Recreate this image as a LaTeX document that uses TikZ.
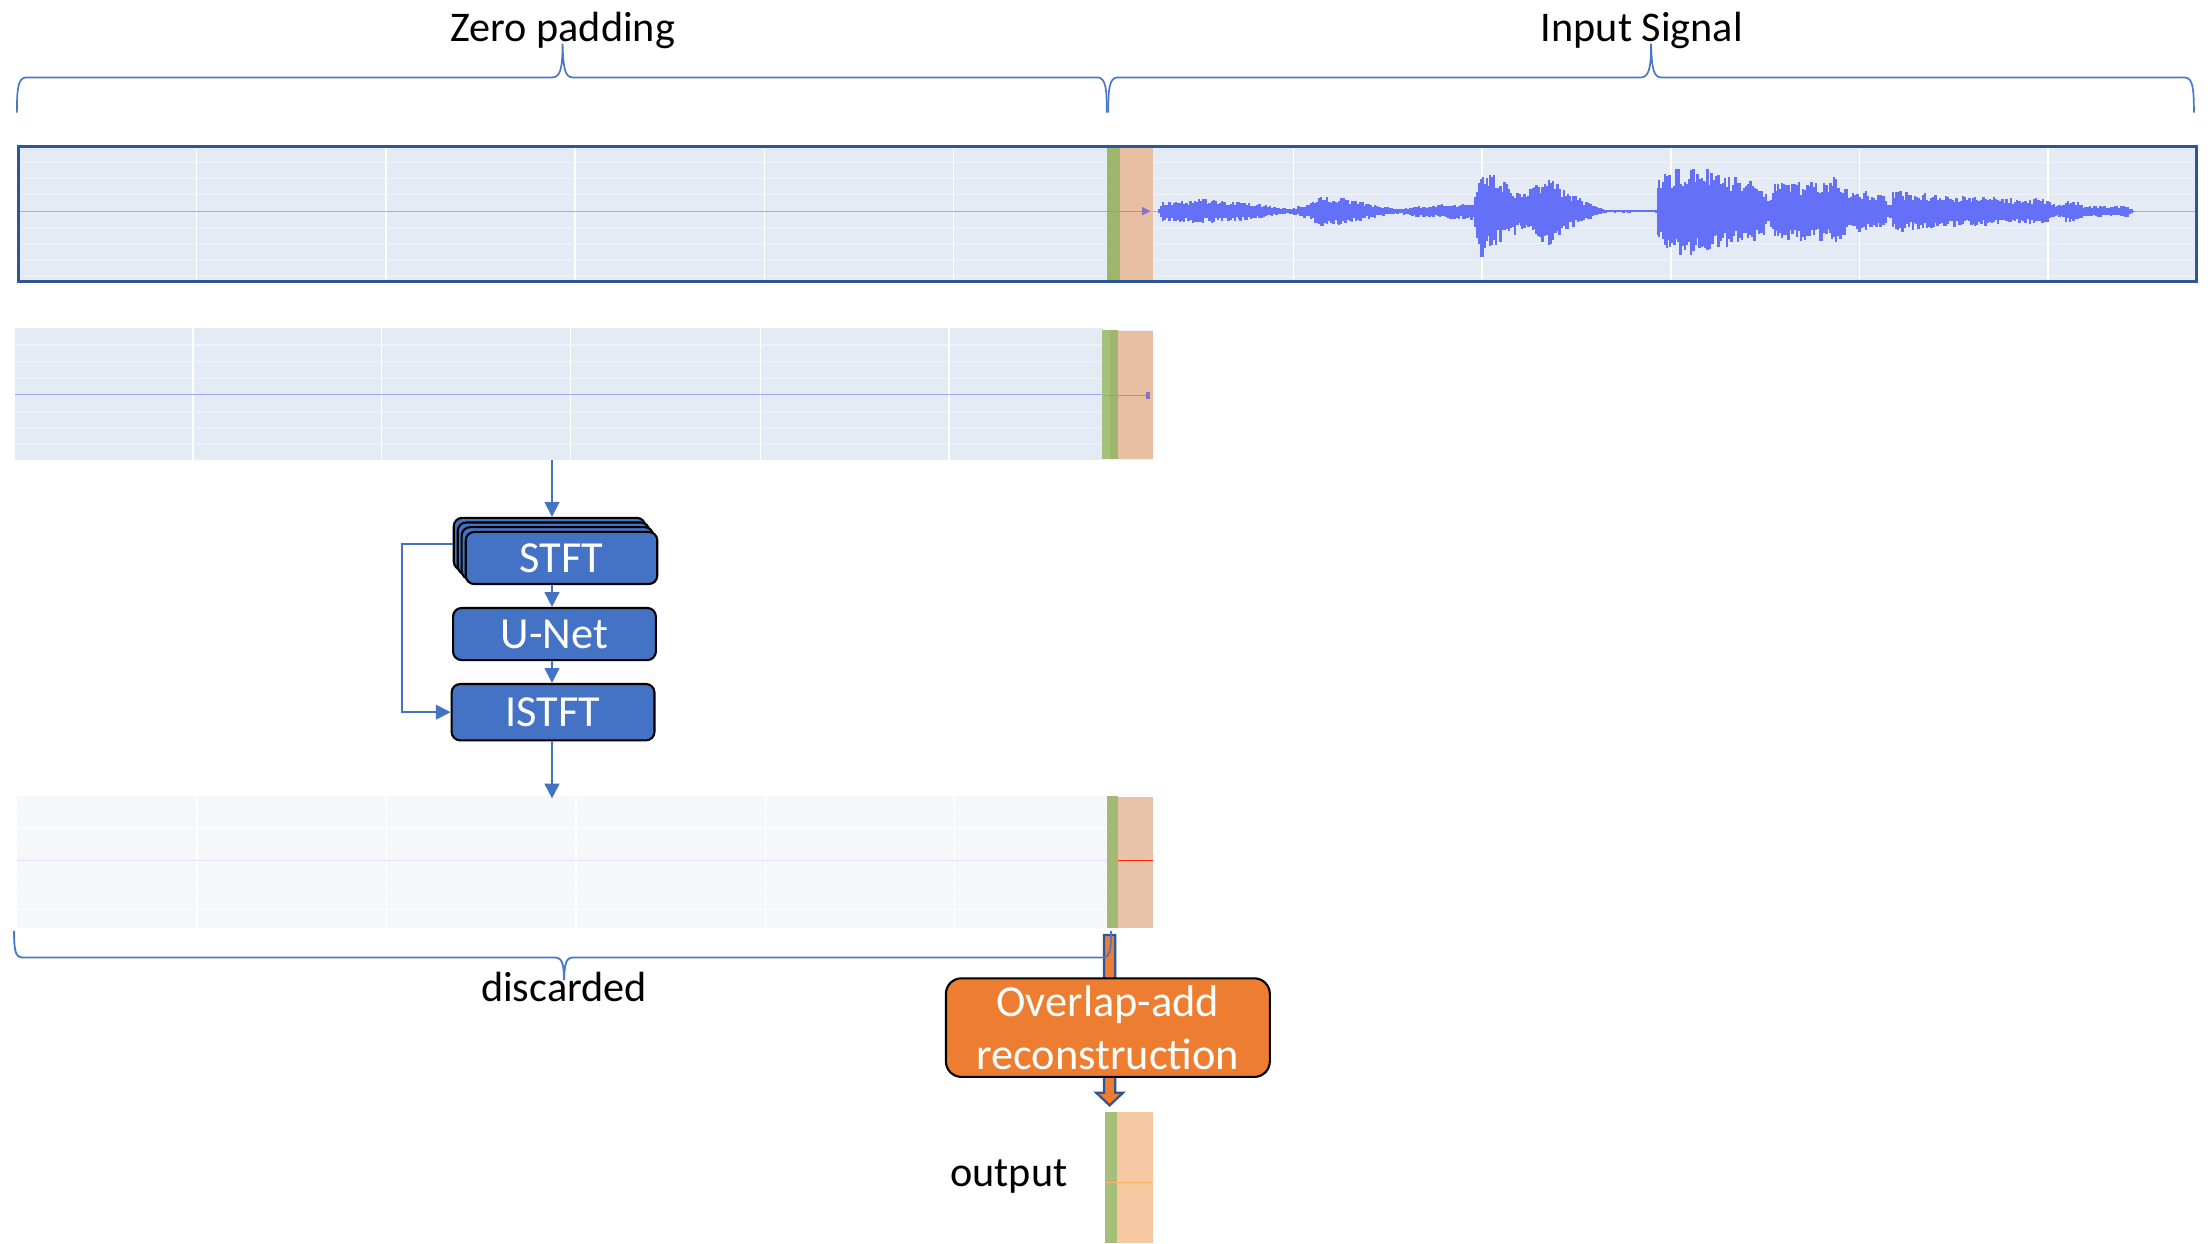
\documentclass[tikz,border=0pt]{standalone}
\usepackage{fontspec}
\setmainfont{Carlito}
\usetikzlibrary{arrows.meta}
\definecolor{plotbg}{HTML}{E5EBF5}
\definecolor{plotbgl}{HTML}{F5F7FB}
\definecolor{wavec}{HTML}{6370F7}
\definecolor{barg}{HTML}{9DB66B}
\definecolor{bargl}{HTML}{A2C27A}
\definecolor{baro}{HTML}{E9BFA3}
\definecolor{baro3}{HTML}{E8C2AA}
\definecolor{baroo}{HTML}{F6C9A3}
\definecolor{boxblue}{HTML}{4472C4}
\definecolor{framebl}{HTML}{2F5597}
\definecolor{olaor}{HTML}{ED7D31}
\definecolor{bracec}{HTML}{4A78C8}
\definecolor{markc}{HTML}{8A72C0}
\begin{document}
\begin{tikzpicture}[x=1pt,y=-1pt,
  txt/.style={font=\fontsize{30}{36}\selectfont, anchor=base, inner sep=0},
  procbox/.style={draw=black, line width=1.5pt, fill=boxblue, rounded corners=6pt, text=white,
    font=\fontsize{31.5}{37}\selectfont, inner sep=0, anchor=north west},
  flow/.style={draw=boxblue, line width=1.3pt, -{Triangle[length=10.5pt,width=10.5pt]}},
  bracel/.style={draw=bracec, line width=1.2pt},
  gridl/.style={draw=white, line width=1pt},
  gridh/.style={draw=white, opacity=0.45, line width=0.8pt},
  wavestroke/.style={draw=wavec, line width=1.7pt},
  stripnode/.style={inner sep=0, anchor=north west},
]
\path[use as bounding box] (0,0) rectangle (1568,883);

% ---------- strip 1 : input with zero padding ----------
\fill[plotbg] (12,103) rectangle (1559,199);
\foreach \y in {115.2,126.8,138.4,161.6,173.2,184.8,196.4}
  \draw[gridh] (12,\y) -- (1559,\y);
\foreach \x in {139.6,274,408.4,542.8,677.2,918.5,1052.5,1186.5,1320.5,1454.5}
  \draw[gridl] (\x,103) -- (\x,199);
\draw[wavec!60, line width=1pt] (12,150) -- (1559,150);
\fill[barg] (786,103) rectangle (795,199);
\fill[baro] (795,103) rectangle (819,199);
\draw[markc!80, line width=0.8pt] (786,150) -- (812,150);
\fill[markc] (811,147) -- (817,150) -- (811,153) -- cycle;
\pgfmathsetseed{12}
\foreach \xa/\aa/\xb/\ab in {823/2/826/7, 826/7/853/9, 853/9/881/7, 881/7/916/2, 916/2/931/6,
  931/6/938/11, 938/11/951/10, 951/10/991/2, 991/2/1006/4, 1006/4/1046/6, 1046/6/1053/35,
  1053/35/1058/28, 1058/28/1081/14, 1081/14/1091/20, 1091/20/1100/25, 1100/25/1116/12,
  1116/12/1141/1, 1141/1/1176/1, 1176/1/1178/24, 1178/24/1186/30, 1186/30/1211/33,
  1211/33/1216/27, 1216/27/1251/22, 1251/22/1256/9, 1256/9/1261/20, 1261/20/1301/22,
  1301/22/1304/30, 1304/30/1310/17, 1310/17/1336/13, 1336/13/1343/6, 1343/6/1345/16,
  1345/16/1361/13, 1361/13/1401/11, 1401/11/1431/9, 1431/9/1451/10, 1451/10/1461/4,
  1461/4/1471/9, 1471/9/1481/4, 1481/4/1511/4, 1511/4/1516/0.5}{
  \pgfmathtruncatemacro\n{max((\xb-\xa)/1.5,1)}
  \foreach \i in {0,...,\n}{
    \pgfmathsetmacro\xx{\xa+\i*1.5}
    \pgfmathsetmacro\am{\aa+(\ab-\aa)*\i/\n}
    \pgfmathsetmacro\up{\am*(0.55+0.45*rnd)}
    \pgfmathsetmacro\dn{\am*(0.55+0.45*rnd)}
    \draw[wavestroke] (\xx,150-\up) -- (\xx,150+\dn);
  }
}
\node[stripnode, name=strip1, draw=framebl, line width=2.2pt, minimum width=1547pt, minimum height=96pt] at (12,103) {};

% ---------- braces on top ----------
\node[txt, name=zplbl] at (399.7,29.6) {Zero padding};
\node[txt, name=inlbl] at (1166,29.6) {Input Signal};
\draw[bracel] (12,80) .. controls (12,62) and (13,56) .. (18,55) -- (392,55)
  .. controls (397.5,55) and (399.5,50) .. (399.5,31)
  .. controls (400,50) and (401.5,55) .. (407,55) -- (780,55)
  .. controls (785,56) and (786,62) .. (786,80);
\draw[bracel] (787,80) .. controls (787,62) and (788,56) .. (793,55) -- (1165,55)
  .. controls (1170.5,55) and (1172.5,50) .. (1172.5,31)
  .. controls (1173,50) and (1174.5,55) .. (1180,55) -- (1552,55)
  .. controls (1557,56) and (1558,62) .. (1558,80);

% ---------- strip 2 : current block ----------
\fill[plotbg!60] (783,234) rectangle (819,327);
\fill[plotbg] (11,233) rectangle (783,327);
\foreach \y in {245,257,268.5,292,303.5,315}
  \draw[gridh] (11,\y) -- (783,\y);
\foreach \x in {137,271,405,540,674}
  \draw[gridl] (\x,233) -- (\x,327);
\draw[wavec!60, line width=1pt] (11,280) -- (783,280);
\fill[bargl] (782.5,234) rectangle (788,326);
\fill[barg] (788,234) rectangle (794,326);
\fill[baro] (794,235) rectangle (819,326);
\draw[markc!80, line width=0.8pt] (784,281) -- (814,281);
\fill[markc] (814,278.5) rectangle (817,283.5);
\node[stripnode, name=strip2, minimum width=808pt, minimum height=94pt] at (11,233) {};

% ---------- processing chain ----------
\foreach \k in {0,1,2}
  \node[procbox, minimum width=136pt, minimum height=37pt, name=stftl\k] at ({321.5+2.8*\k},{367+3.3*\k}) {};
\node[procbox, minimum width=136pt, minimum height=37pt, name=stft] at (330,377) {STFT};
\node[procbox, minimum width=144pt, minimum height=37pt, name=unet] at (321,431) {U-Net};
\node[procbox, minimum width=144pt, minimum height=40pt, name=istft] at (320,485) {ISTFT};

% ---------- strip 3 : processed block ----------
\fill[plotbgl] (12,565) rectangle (786,659);
\foreach \y in {576.5,588,599.5,622.5,634,645.5}
  \draw[white, opacity=0.5, line width=0.8pt] (12,\y) -- (786,\y);
\foreach \x in {140,274.4,409,543.6,678}
  \draw[white, line width=1pt] (\x,565) -- (\x,659);
\draw[wavec!20, line width=1pt] (12,611) -- (786,611);
\fill[barg!95!white] (786,565) rectangle (794,659);
\fill[baro3] (794,566) rectangle (819,659);
\draw[red!70!orange, line width=1pt] (794,611) -- (819,611);
\node[stripnode, name=strip3, minimum width=807pt, minimum height=94pt] at (12,565) {};

\coordinate (c1) at (392,327);
\draw[flow] (c1) -- (c1 |- stftl0.north);
\draw[flow] (stft.south -| c1) -- (unet.north -| c1);
\draw[flow] (unet.south -| c1) -- (istft.north -| c1);
\draw[flow] (istft.south -| c1) -- ([yshift=-2pt]strip3.north -| c1);
\draw[flow] (stftl0.west) -- ++(-36,0) |- (istft.west);

% ---------- output ----------
\fill[barg!90!white] (785,790) rectangle (793,883);
\fill[baroo] (793,790) rectangle (819,883);
\draw[orange!60, line width=0.8pt] (785,840) -- (819,840);
\node[stripnode, name=outstrip, minimum width=34pt, minimum height=93pt] at (785,790) {};
\node[txt, name=outlbl] at (716.5,842.6) {output};

% ---------- overlap-add ----------
\coordinate (s3out) at (788,664);
\draw[fill=olaor, draw=framebl, line width=1.6pt, line join=miter]
  (s3out) ++(-4,0) -- ++(8,0) -- ++(0,112) -- ++(5.5,0) -- ++(-9.5,9) -- ++(-9.5,-9) -- ++(5.5,0) -- cycle;
\draw[bracel, line width=1.3pt] (10,661) .. controls (10,676) and (11,679.5) .. (16,680) -- (394,680)
  .. controls (399,680) and (400.5,684) .. (400.5,696)
  .. controls (401,684) and (402,680) .. (407,680) -- (783,680)
  .. controls (788,679.5) and (789,676) .. (789,661);
\node[txt, name=dislbl] at (400.5,711) {discarded};
\node[name=ola, draw=black, line width=1.5pt, fill=olaor, rounded corners=11pt, text=white,
  minimum width=230pt, minimum height=70pt, align=center, inner sep=0, anchor=north west,
  font=\fontsize{31.5}{37.4}\selectfont] at (671,694) {Overlap-add\\reconstruction};
\end{tikzpicture}
\end{document}
